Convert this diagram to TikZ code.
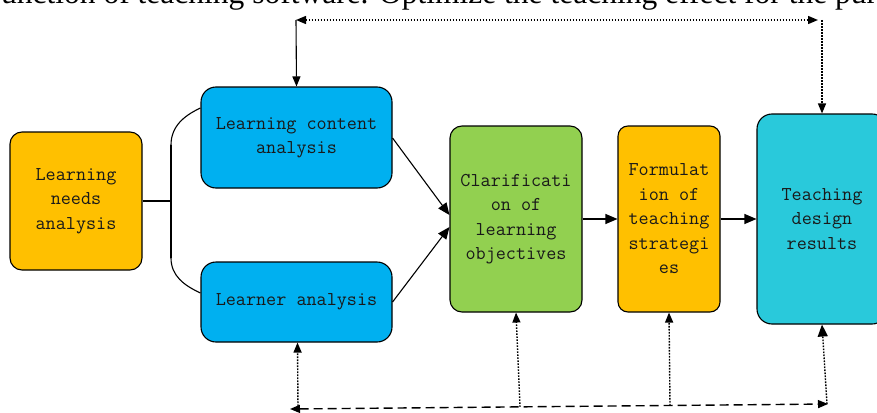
\documentclass[tikz,border=0pt]{standalone}
\usepackage{fontspec}
\newfontfamily\toptext{Liberation Serif}
\usetikzlibrary{arrows.meta}
\definecolor{orangeF}{HTML}{FFC000}
\definecolor{blueF}{HTML}{00B0F0}
\definecolor{greenF}{HTML}{92D050}
\definecolor{cyanF}{HTML}{29C9DB}
\tikzset{
  box/.style={draw=black, line width=1.1pt, rounded corners=13pt, align=center,
    font=\ttfamily\fontsize{19.6}{24.5}\selectfont, text=black!90, inner sep=0pt},
  conn/.style={line width=1.1pt},
  tip/.style={-{Triangle[length=12pt,width=10pt]}},
  smalltip/.style={-{Triangle[length=10pt,width=8pt]}},
  dots/.style={line width=1.4pt, dash pattern=on 1.6pt off 1.4pt},
  dashes/.style={line width=1.4pt, dash pattern=on 9pt off 5pt},
}
\begin{document}
\begin{tikzpicture}[x=1pt,y=-1pt]
\useasboundingbox (0,0) rectangle (877,412);
\node[anchor=base west, inner sep=0pt, font=\toptext\fontsize{31.5}{36}\selectfont] (top) at (1,4) {unction of teaching software. Optimize the teaching effect for the pur};

\node[box, fill=orangeF, minimum width=132pt, minimum height=138pt, rounded corners=12pt] (needs) at (76,201) {Learning\\needs\\analysis};
\node[box, fill=blueF, minimum width=191pt, minimum height=101pt, rounded corners=15pt] (content) at (296.5,137.5) {Learning content\\analysis};
\node[box, fill=blueF, minimum width=191pt, minimum height=80pt, rounded corners=15pt] (learner) at (296.5,302) {Learner analysis};
\node[box, fill=greenF, minimum width=132pt, minimum height=186pt, rounded corners=12pt] (clar) at (516,219) {Clarificati\\on of\\learning\\objectives};
\node[box, fill=orangeF, minimum width=102pt, minimum height=186pt, rounded corners=10pt] (form) at (669,219) {Formulat\\ion of\\teaching\\strategi\\es};
\node[box, fill=cyanF, minimum width=130pt, minimum height=210pt, rounded corners=15pt] (result) at (822,219) {Teaching\\design\\results};

% branching from needs
\coordinate (j) at (171,201);
\coordinate (jt) at (171,145);
\coordinate (jb) at (171,258);
\draw[conn] (needs.east) -- (j);
\draw[conn] (jt) -- (jb);
\draw[conn] (jt) to[out=90,in=205] ([yshift=29.5pt]content.west);
\draw[conn] (jb) to[out=-90,in=155] ([yshift=9pt]learner.west);

% into clarification
\draw[conn,tip] ([yshift=-0.5pt]content.east) -- ([yshift=4pt]clar.west);
\draw[conn,tip] (learner.east) -- ([yshift=-8pt]clar.west);
\draw[conn,tip] (clar.east) -- (form.west);
\draw[conn,tip] (form.east) -- (result.west);

% top feedback
\coordinate (tl) at (296,20);
\coordinate (tr) at (822,20);
\draw[dots,{Triangle[length=10pt,width=8pt]}-{Triangle[length=10pt,width=8pt]}] (tl) -- ([xshift=-4pt]tr);
\draw[conn,smalltip] (tl) -- (content.north);
\draw[dots,smalltip] (tr) -- (result.north);

% bottom feedback
\coordinate (bl) at (290,409);
\coordinate (br) at (828,404);
\draw[dashes,{Triangle[length=10pt,width=8pt]}-{Triangle[length=10pt,width=8pt]}] (bl) -- (br);
\coordinate (b1) at (298,409);
\coordinate (b2) at (520,406.9);
\coordinate (b3) at (670,405.5);
\coordinate (b4) at (827,404);
\draw[dots,smalltip] (b1) -- ([xshift=1pt]learner.south);
\draw[dots,smalltip] (b2) -- (clar.south);
\draw[dots,smalltip] (b3) -- (form.south);
\draw[dots,-{Triangle[length=12pt,width=10pt]}] (b4) -- (result.south);
\end{tikzpicture}
\end{document}
